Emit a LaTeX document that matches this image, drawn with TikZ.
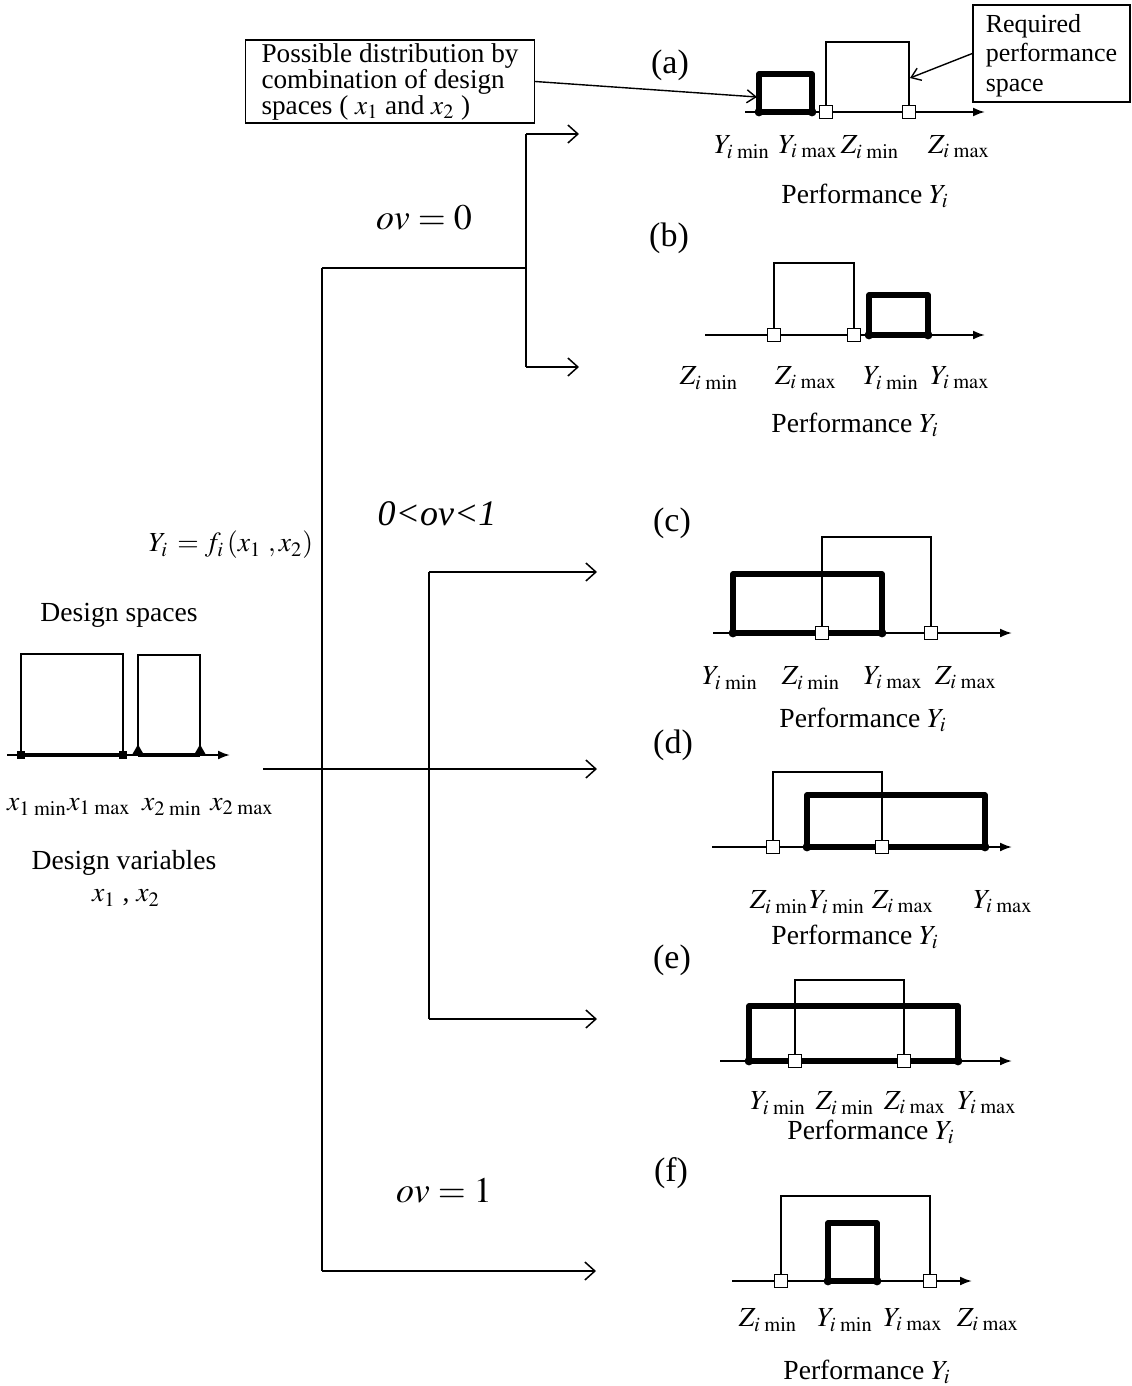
\documentclass[tikz,border=0pt]{standalone}
\usepackage{mathptmx}
\usepackage{fontspec}
\setmainfont{Liberation Serif}
\usetikzlibrary{arrows.meta, shapes.geometric}

\begin{document}
\begin{tikzpicture}[x=0.5pt, y=-0.5pt,
  font=\fontsize{13.8}{16}\selectfont,
  axis/.style={line width=1pt, -{Latex[length=6pt,width=4.5pt]}},
  zbox/.style={line width=0.7pt},
  ybox/.style={line width=2.8pt, line join=round},
  ydot/.style={circle, fill, inner sep=0pt, minimum size=4.4pt},
  zsq/.style={draw, fill=white, inner sep=0pt, minimum size=6.3pt, line width=0.6pt},
  xsq/.style={fill, inner sep=0pt, minimum size=4pt},
  xtri/.style={regular polygon, regular polygon sides=3, fill, inner sep=0pt, minimum size=7pt},
  branch/.style={line width=0.75pt},
  flow/.style={line width=0.75pt, -{Straight Barb[length=5pt,width=9pt]}},
  callout/.style={draw, line width=0.7pt, align=left, inner xsep=0pt, inner ysep=0pt},
  pointer/.style={line width=0.7pt, -{Straight Barb[length=4.5pt,width=6.5pt]}},
  case/.style={font=\fontsize{17}{20}\selectfont},
  ovlbl/.style={font=\fontsize{18}{21}\selectfont},
]
  \useasboundingbox (0,0) rectangle (1131,1386);

  % Design spaces (left)
  \node (dsTitle) at (119,615) {Design spaces};
  \draw[axis] (7,755) -- (230,755);
  \draw[zbox] (21,755) |- (123,654) -- (123,755);
  \draw[zbox] (138,755) |- (200,655) -- (200,755);
  \draw[line width=1.8pt] (21,755) -- (123,755);
  \draw[line width=1.8pt] (138,755) -- (200,755);
  \node[xsq] at (21,755) {};
  \node[xsq] at (123,755) {};
  \node[xtri] at (138,751.5) {};
  \node[xtri] at (200,751.5) {};
  \node (x1min) at (37,807) {$x_{1\;\mathrm{min}}$};
  \node (x1max) at (99,807) {$x_{1\;\mathrm{max}}$};
  \node (x2min) at (172,807) {$x_{2\;\mathrm{min}}$};
  \node (x2max) at (242,807) {$x_{2\;\mathrm{max}}$};
  \node (dvTitle) at (124,863) {Design variables};
  \node (dvVars) at (126,898) {$x_1$ , $x_2$};
  \node (func) at (231,545) {$Y_i\,=f_i\,(x_1\ ,x_2)$};

  % Branching tree
  \coordinate (trunkTop) at (322,268);
  \coordinate (trunkBot) at (322,1271);
  \coordinate (zeroJoin) at (526,268);
  \coordinate (zeroUp) at (526,134);
  \coordinate (zeroDn) at (526,367);
  \coordinate (midUp) at (429,572);
  \coordinate (midDn) at (429,1019);
  \coordinate (inStart) at (263,769);
  \coordinate (toA) at (579,134);
  \coordinate (toB) at (579,367);
  \coordinate (toC) at (597,572);
  \coordinate (toD) at (597,769);
  \coordinate (toE) at (597,1019);
  \coordinate (toF) at (596,1271);
  \draw[branch] (trunkTop) -- (trunkBot);
  \draw[branch] (trunkTop) -- (zeroJoin);
  \draw[branch] (zeroUp) -- (zeroDn);
  \draw[branch] (midUp) -- (midDn);
  \draw[flow] (zeroUp) -- (toA);
  \draw[flow] (zeroDn) -- (toB);
  \draw[flow] (midUp) -- (toC);
  \draw[flow] (inStart) -- (toD);
  \draw[flow] (midDn) -- (toE);
  \draw[flow] (trunkBot) -- (toF);
  \node[ovlbl] (ovZero) at (424,218) {$ov=0$};
  \node[ovlbl] (ovPart) at (437,514) {\textit{0<ov<1}};
  \node[ovlbl] (ovOne) at (444,1191) {$ov=1$};

  % Callouts
  \node[callout, minimum width=144.5pt, minimum height=41.5pt, font=\fontsize{13.6}{13}\selectfont]
    (possible) at (390,81.5) {Possible distribution by\\combination of design\\spaces ( $x_1$ and $x_2$ )};
  \node[callout, minimum width=78.5pt, minimum height=48.5pt, font=\fontsize{13}{14.7}\selectfont]
    (required) at (1051.5,53.5) {\rule{0pt}{11pt}Required\\performance\\space};
  \coordinate (aYbox) at (757,97);
  \coordinate (aZbox) at (910,78);
  \draw[pointer] (possible.east) -- (aYbox);
  \draw[pointer] (required.west) -- (aZbox);

  % Panel (a)
  \node[case] (capA) at (670,65) {(a)};
  \draw[axis] (745,112) -- (985,112);
  \draw[ybox] (759,112) rectangle (812,74);
  \draw[zbox] (826,112) |- (909,42) -- (909,112);
  \node[ydot] at (759,112) {};
  \node[ydot] at (812,112) {};
  \node[zsq] at (826,112) {};
  \node[zsq] at (909,112) {};
  \node (aYmin) at (742,147) {$Y_{i\;\mathrm{min}}$};
  \node (aYmax) at (808,147) {$Y_{i\;\mathrm{max}}$};
  \node (aZmin) at (870,147) {$Z_{i\;\mathrm{min}}$};
  \node (aZmax) at (959,147) {$Z_{i\;\mathrm{max}}$};
  \node (aPerf) at (865,196) {Performance $Y_i$};

  % Panel (b)
  \node[case] (capB) at (669,238) {(b)};
  \draw[axis] (705,335) -- (985,335);
  \draw[ybox] (869,335) rectangle (928,295);
  \draw[zbox] (774,335) |- (854,263) -- (854,335);
  \node[ydot] at (869,335) {};
  \node[ydot] at (928,335) {};
  \node[zsq] at (774,335) {};
  \node[zsq] at (854,335) {};
  \node (bZmin) at (709,378) {$Z_{i\;\mathrm{min}}$};
  \node (bZmax) at (806,378) {$Z_{i\;\mathrm{max}}$};
  \node (bYmin) at (891,378) {$Y_{i\;\mathrm{min}}$};
  \node (bYmax) at (960,378) {$Y_{i\;\mathrm{max}}$};
  \node (bPerf) at (855,425) {Performance $Y_i$};

  % Panel (c)
  \node[case] (capC) at (672,523) {(c)};
  \draw[axis] (713,633) -- (1012,633);
  \draw[ybox] (733,633) rectangle (882,574);
  \draw[zbox] (822,633) |- (931,537) -- (931,633);
  \node[ydot] at (733,633) {};
  \node[ydot] at (882,633) {};
  \node[zsq] at (822,633) {};
  \node[zsq] at (931,633) {};
  \node (cYmin) at (730,678) {$Y_{i\;\mathrm{min}}$};
  \node (cZmin) at (811,678) {$Z_{i\;\mathrm{min}}$};
  \node (cYmax) at (893,678) {$Y_{i\;\mathrm{max}}$};
  \node (cZmax) at (966,678) {$Z_{i\;\mathrm{max}}$};
  \node (cPerf) at (863,720) {Performance $Y_i$};

  % Panel (d)
  \node[case] (capD) at (673,745) {(d)};
  \draw[axis] (712,847) -- (1012,847);
  \draw[ybox] (807,847) rectangle (985,795);
  \draw[zbox] (773,847) |- (882,772) -- (882,847);
  \node[ydot] at (807,847) {};
  \node[ydot] at (985,847) {};
  \node[zsq] at (773,847) {};
  \node[zsq] at (882,847) {};
  \node (dZmin) at (779,902) {$Z_{i\;\mathrm{min}}$};
  \node (dYmin) at (837,902) {$Y_{i\;\mathrm{min}}$};
  \node (dZmax) at (903,902) {$Z_{i\;\mathrm{max}}$};
  \node (dYmax) at (1003,902) {$Y_{i\;\mathrm{max}}$};
  \node (dPerf) at (855,937) {Performance $Y_i$};

  % Panel (e)
  \node[case] (capE) at (672,960) {(e)};
  \draw[axis] (720,1061) -- (1012,1061);
  \draw[ybox] (749,1061) rectangle (958,1006);
  \draw[zbox] (795,1061) |- (904,980) -- (904,1061);
  \node[ydot] at (749,1061) {};
  \node[ydot] at (958,1061) {};
  \node[zsq] at (795,1061) {};
  \node[zsq] at (904,1061) {};
  \node (eYmin) at (778,1103) {$Y_{i\;\mathrm{min}}$};
  \node (eZmin) at (845,1103) {$Z_{i\;\mathrm{min}}$};
  \node (eZmax) at (915,1103) {$Z_{i\;\mathrm{max}}$};
  \node (eYmax) at (987,1103) {$Y_{i\;\mathrm{max}}$};
  \node (ePerf) at (871,1132) {Performance $Y_i$};

  % Panel (f)
  \node[case] (capF) at (671,1173) {(f)};
  \draw[axis] (732,1281) -- (972,1281);
  \draw[ybox] (828,1281) rectangle (877,1223);
  \draw[zbox] (781,1281) |- (930,1196) -- (930,1281);
  \node[ydot] at (828,1281) {};
  \node[ydot] at (877,1281) {};
  \node[zsq] at (781,1281) {};
  \node[zsq] at (930,1281) {};
  \node (fZmin) at (768,1320) {$Z_{i\;\mathrm{min}}$};
  \node (fYmin) at (845,1320) {$Y_{i\;\mathrm{min}}$};
  \node (fYmax) at (913,1320) {$Y_{i\;\mathrm{max}}$};
  \node (fZmax) at (988,1320) {$Z_{i\;\mathrm{max}}$};
  \node (fPerf) at (867,1372) {Performance $Y_i$};
\end{tikzpicture}
\end{document}
